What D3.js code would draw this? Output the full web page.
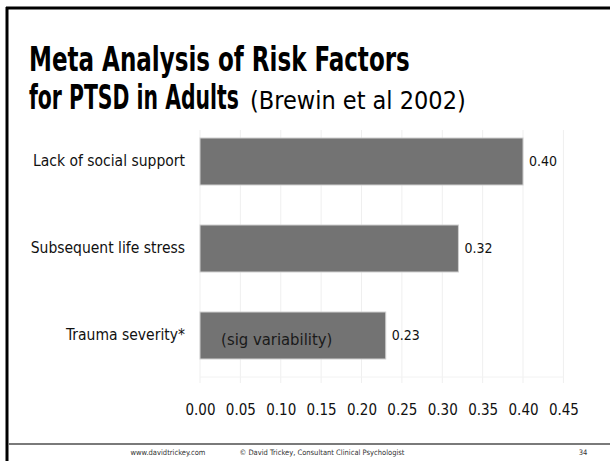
<!DOCTYPE html>
<html>
<head>
<meta charset="utf-8">
<script src="https://cdn.jsdelivr.net/npm/d3@7"></script>
<style>
  body { margin: 0; background: #fff; }
  svg { display: block; font-family: "DejaVu Sans Condensed", "DejaVu Sans", sans-serif; }
</style>
</head>
<body>
<svg width="610" height="461"></svg>
<script>
const categories = ["Lack of social support", "Subsequent life stress", "Trauma severity*"];
const values = [0.40, 0.32, 0.23];
const valueLabels = ["0.40", "0.32", "0.23"];
const tickValues = [0, 0.05, 0.10, 0.15, 0.20, 0.25, 0.30, 0.35, 0.40, 0.45];

const svg = d3.select("svg");
const width = +svg.attr("width");
const height = +svg.attr("height");

// slide frame
svg.append("line").attr("x1", 6).attr("x2", width).attr("y1", 8).attr("y2", 8)
    .attr("stroke", "#000").attr("stroke-width", 3);
svg.append("line").attr("x1", 7).attr("x2", 7).attr("y1", 7).attr("y2", height)
    .attr("stroke", "#000").attr("stroke-width", 3);
svg.append("line").attr("x1", 8).attr("x2", width).attr("y1", 444).attr("y2", 444)
    .attr("stroke", "#7a7a7a").attr("stroke-width", 2);

// title, squeezed horizontally to the width of the original
const titleLine = (txt, y, w) => {
    const t = svg.append("text")
        .attr("font-weight", "bold").attr("font-size", 33)
        .text(txt);
    const k = w / t.node().getComputedTextLength();
    t.attr("transform", `translate(29, ${y}) scale(${k}, 1)`);
};
titleLine("Meta Analysis of Risk Factors", 71, 381);
titleLine("for PTSD in Adults", 109, 210);
svg.append("text").attr("x", 250).attr("y", 109)
    .attr("font-size", 25).text("(Brewin et al 2002)");

const margin = { top: 118, left: 200 };

const xScale = d3.scaleLinear().domain([0, 0.45]).range([0, 363.4]);
const yScale = d3.scaleBand().domain(categories).range([0, 261])
    .paddingInner(0.46).paddingOuter(0.23);

const g = svg.append("g").attr("transform", `translate(${margin.left}, ${margin.top})`);

// gridlines
g.append("g").selectAll("line").data(tickValues).enter().append("line")
    .attr("x1", d => xScale(d)).attr("x2", d => xScale(d))
    .attr("y1", 12).attr("y2", 265)
    .attr("stroke", "#efefef").attr("stroke-width", 1);
g.append("line").attr("x1", 0).attr("x2", xScale(0.45)).attr("y1", 259).attr("y2", 259)
    .attr("stroke", "#f2f2f2");

// bars
g.selectAll("rect.bar").data(values).enter().append("rect")
    .attr("class", "bar")
    .attr("x", 0)
    .attr("y", (d, i) => yScale(categories[i]))
    .attr("width", d => xScale(d))
    .attr("height", yScale.bandwidth())
    .attr("fill", "#737373")
    .attr("stroke", "#cfcfcf")
    .attr("stroke-width", 1);

// value labels
g.selectAll("text.val").data(values).enter().append("text")
    .attr("class", "val")
    .attr("x", d => xScale(d) + 6)
    .attr("y", (d, i) => yScale(categories[i]) + yScale.bandwidth() / 2)
    .attr("dy", "0.35em")
    .attr("font-size", 14).attr("fill", "#111")
    .text((d, i) => valueLabels[i]);

// category axis
const yAxisG = g.append("g").call(d3.axisLeft(yScale).tickSize(0).tickPadding(15));
yAxisG.select(".domain").remove();
yAxisG.selectAll("text").attr("font-size", 15.5).attr("fill", "#111")
    .attr("font-family", "\"DejaVu Sans Condensed\", sans-serif");

// value axis
const xAxisG = g.append("g").attr("transform", "translate(0, 283)")
    .call(d3.axisBottom(xScale).tickValues(tickValues).tickFormat(d3.format(".2f")).tickSize(0));
xAxisG.select(".domain").remove();
xAxisG.selectAll("text").attr("font-size", 15).attr("fill", "#111")
    .attr("font-family", "\"DejaVu Sans Condensed\", sans-serif");

// annotation
g.append("text")
    .attr("x", xScale(0.095))
    .attr("y", yScale(categories[2]) + yScale.bandwidth() / 2 + 9)
    .attr("text-anchor", "middle")
    .attr("font-size", 16.5).attr("fill", "#1a1a1a")
    .text("(sig variability)");

// footer
const footer = svg.append("g").attr("font-size", 7.5).attr("fill", "#333");
footer.append("text").attr("x", 168).attr("y", 455).attr("text-anchor", "middle").text("www.davidtrickey.com");
footer.append("text").attr("x", 322).attr("y", 455).attr("text-anchor", "middle").text("© David Trickey, Consultant Clinical Psychologist");
footer.append("text").attr("x", 583).attr("y", 455).attr("text-anchor", "middle").text("34");
</script>
</body>
</html>
